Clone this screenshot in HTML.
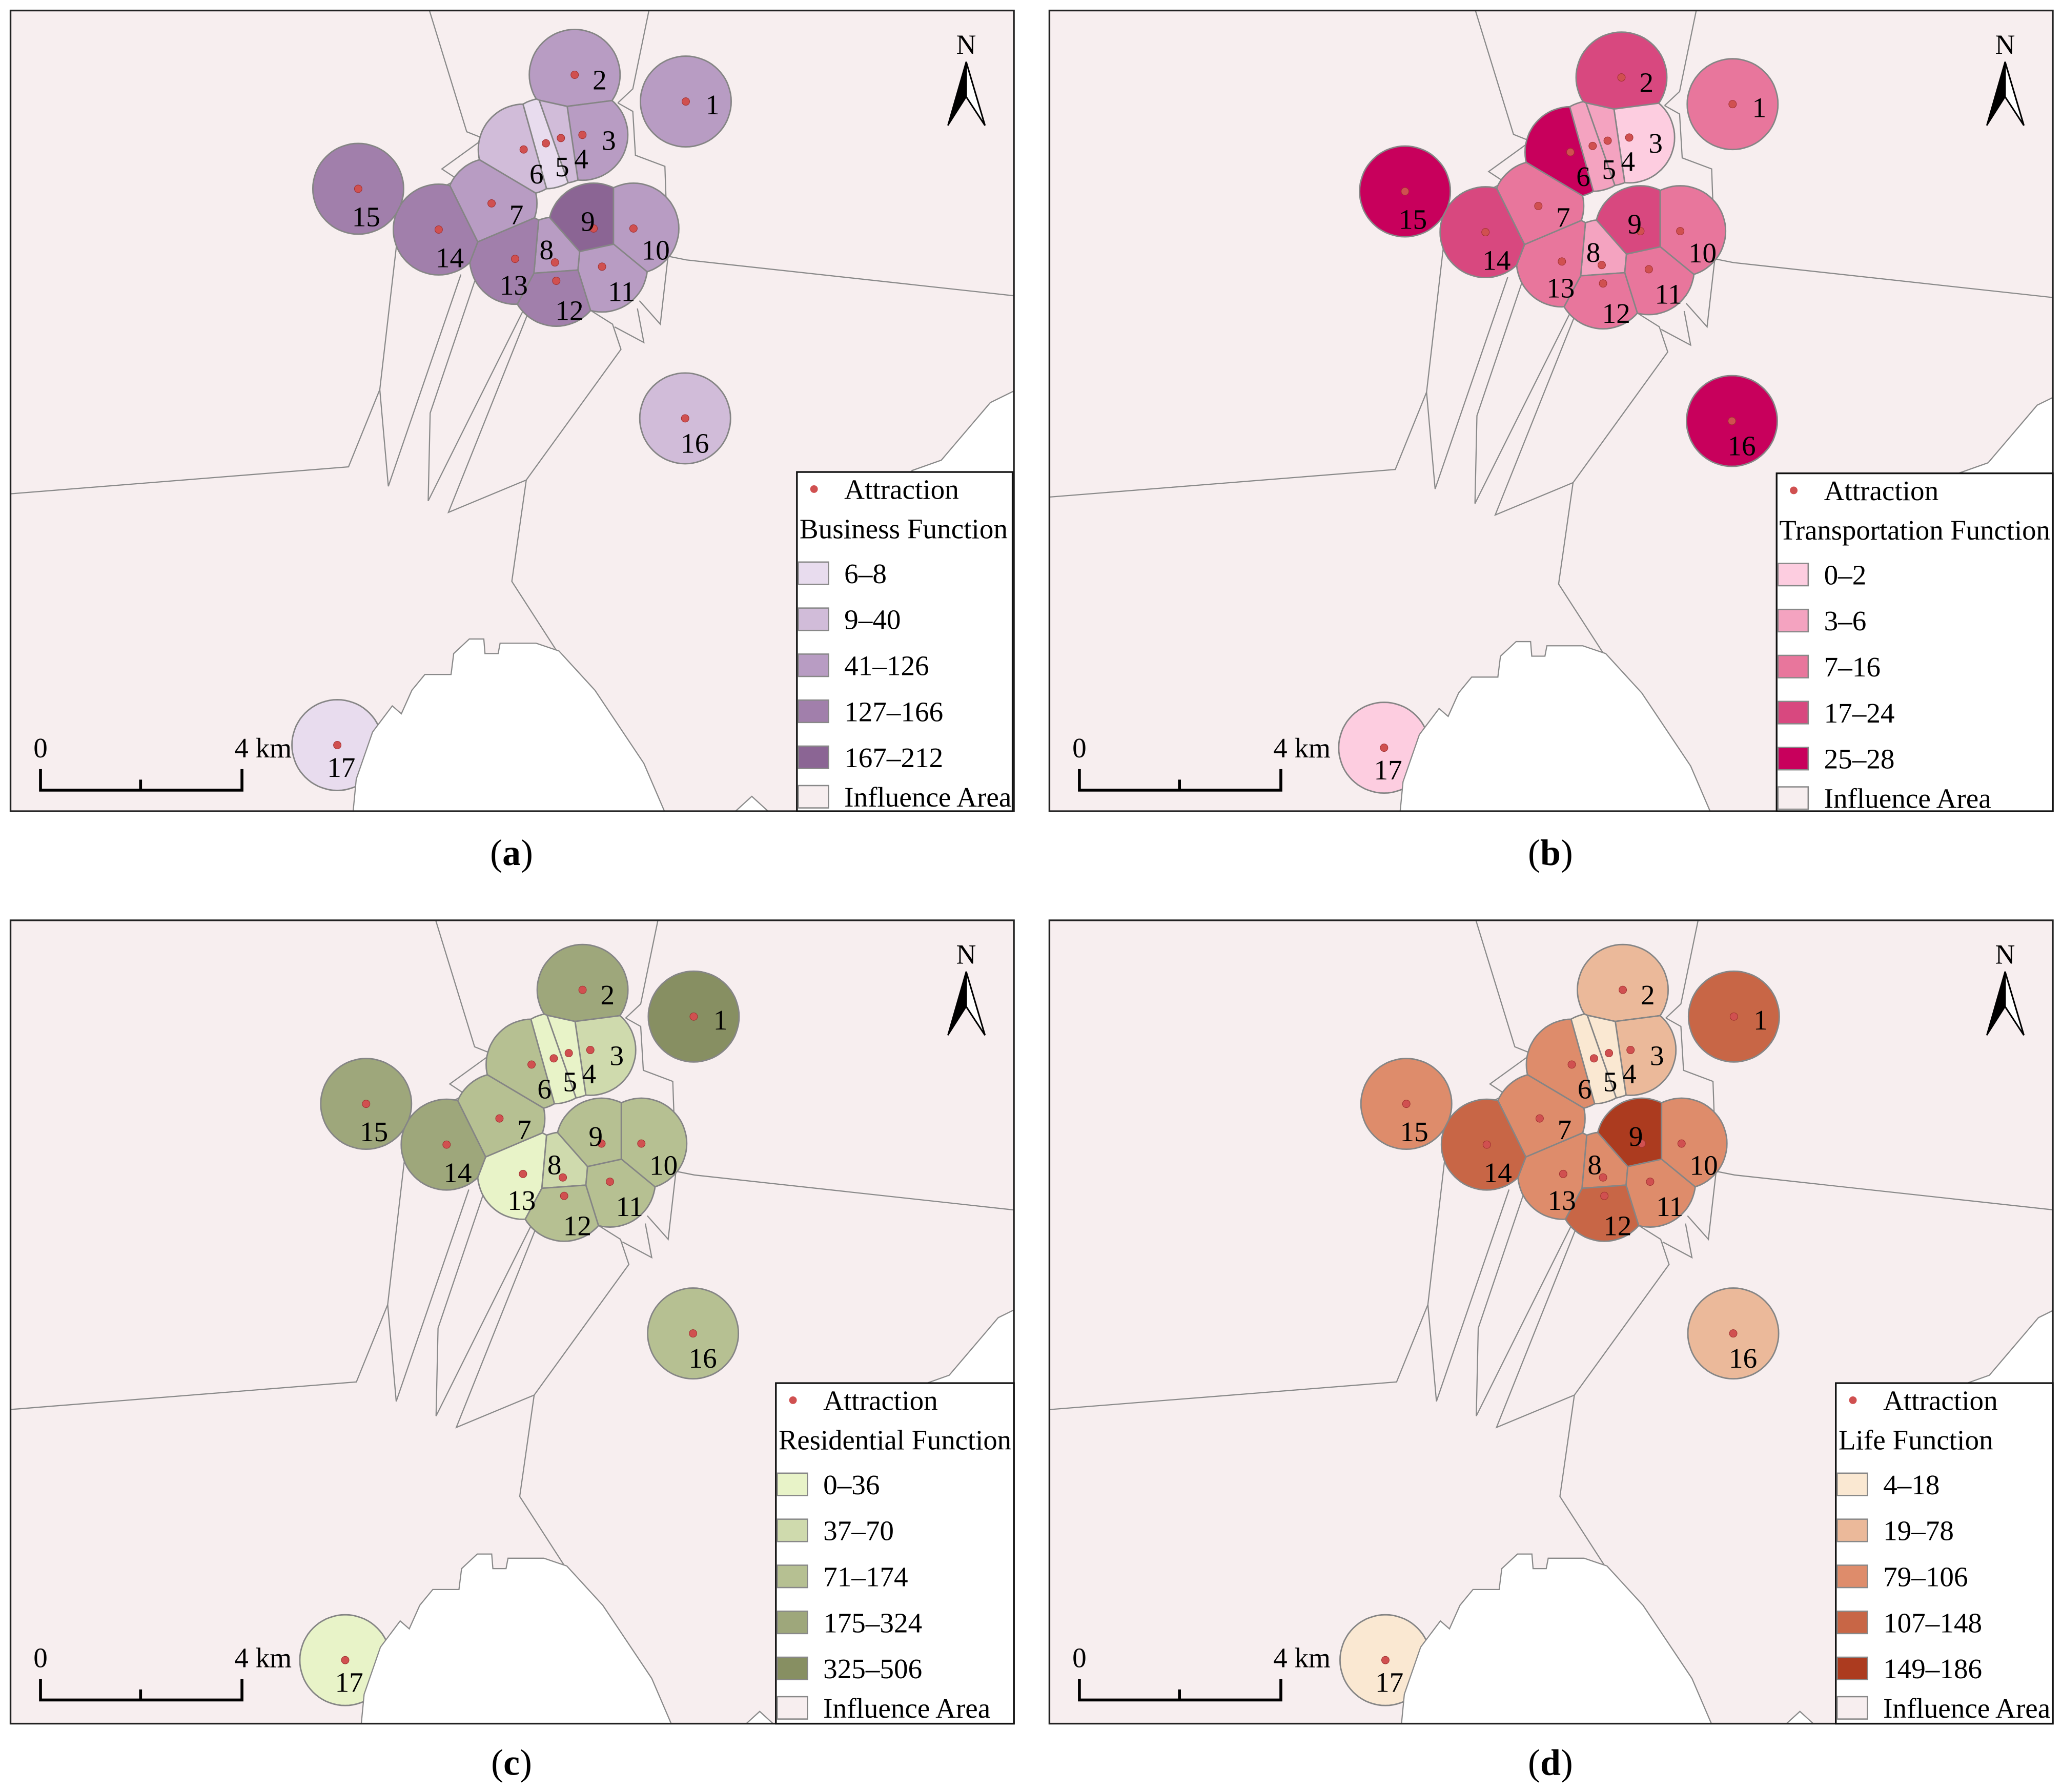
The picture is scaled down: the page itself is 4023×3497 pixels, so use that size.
<!DOCTYPE html>
<html><head><meta charset="utf-8">
<style>
html,body{margin:0;padding:0;background:#fff;}
svg{display:block;font-family:"Liberation Serif",serif;}
</style></head>
<body>
<svg id="fig" width="4023" height="3497" viewBox="0 0 1568 1363" preserveAspectRatio="none" xmlns="http://www.w3.org/2000/svg"></svg>
<script>
// ---- data ----
const siteIds = ["1","2","3","4","5","6","7","8","9","10","11","12","13","14","15","16","17"];
const siteX = [521.5,437,442.9,426.5,415.1,398.2,373.8,422,451.4,481.7,457.8,423,391.7,333.6,272.4,521,256.5];
const siteY = [77.2,56.9,102.6,105,109,113.7,154.7,199.6,173.8,173.8,202.8,213.6,196.9,174.6,143.6,318.2,566.7];
const labelX = [541.8,456,463,442,427.5,408,392.7,415.6,447,498.6,472.7,433,390.7,342,278.4,528.4,259.5];
const labelY = [79.5,60.5,106.6,120.5,126.5,132,163,189.7,168,190,221.5,236,216.7,195.7,164.6,336.8,583.4];

const businessClass    = [2,2,2,1,0,1,2,2,4,2,2,3,3,3,3,1,0];
const transportClass   = [2,3,0,1,1,4,2,1,3,2,2,2,2,3,4,4,0];
const residentialClass = [4,3,1,0,0,2,2,1,2,2,2,2,0,3,3,2,0];
const lifeClass        = [3,1,1,0,0,2,2,2,4,2,2,3,2,3,2,1,0];

const businessBins    = ["6–8","9–40","41–126","127–166","167–212"];
const transportBins   = ["0–2","3–6","7–16","17–24","25–28"];
const residentialBins = ["0–36","37–70","71–174","175–324","325–506"];
const lifeBins        = ["4–18","19–78","79–106","107–148","149–186"];

const businessColors    = ["#e8dcee","#d1bcd9","#b89cc3","#a17fab","#8b6594"];
const transportColors   = ["#fdcde0","#f4a3c0","#e8769c","#d8487f","#c8005c"];
const residentialColors = ["#e8f3c8","#cfdaad","#b6c092","#9ea77b","#878f62"];
const lifeColors        = ["#fae8d2","#ebb99a","#de8c6b","#c86646","#ac3b1f"];

const NS="http://www.w3.org/2000/svg";
const svg=document.getElementById('fig');
function el(tag,attrs,parent){const e=document.createElementNS(NS,tag);for(const k in attrs)e.setAttribute(k,attrs[k]);(parent||svg).appendChild(e);return e;}

const R=34.5;
function cellPoly(i){
  let poly=[];
  for(let k=0;k<72;k++){const a=k/72*2*Math.PI;poly.push([siteX[i]+R*Math.cos(a),siteY[i]+R*Math.sin(a)]);}
  for(let j=0;j<siteX.length;j++){
    if(j===i)continue;
    const dx=siteX[j]-siteX[i],dy=siteY[j]-siteY[i];
    if(Math.hypot(dx,dy)>2*R+2)continue;
    const mx=(siteX[j]+siteX[i])/2,my=(siteY[j]+siteY[i])/2;
    const f=p=>(p[0]-mx)*dx+(p[1]-my)*dy;
    const out=[];
    for(let k=0;k<poly.length;k++){
      const a=poly[k],b=poly[(k+1)%poly.length];const fa=f(a),fb=f(b);
      if(fa<=0)out.push(a);
      if((fa<=0)!==(fb<=0)){const t=fa/(fa-fb);out.push([a[0]+t*(b[0]-a[0]),a[1]+t*(b[1]-a[1])]);}
    }
    poly=out;
  }
  return poly;
}

const SX=0.4971, SY=0.3977;
const bgLines=[
 [[652,0],[714,252],[740,265]],
 [[996,0],[968,170],[945,197]],
 [[740,265],[676,323],[700,343],[651,375],[660,395],[607,398]],
 [[607,465],[581,745],[533,893],[-40,950]],
 [[581,745],[594,930],[705,525]],
 [[735,505],[658,790],[655,958],[718,800],[820,545]],
 [[825,545],[686,980],[805,918],[950,668],[937,620],[905,595]],
 [[805,918],[783,1112],[1035,1600]],
 [[945,197],[968,213],[972,297],[1017,318],[1022,490],[1050,497],[1620,575]],
 [[1022,490],[1010,620],[978,575]],
 [[940,625],[985,655],[975,590]]
];
const whitePolys=[
 [[535,1620],[545,1490],[570,1400],[600,1350],[614,1365],[630,1320],[650,1290],[690,1290],[694,1250],[718,1222],[740,1222],[742,1250],[762,1250],[765,1230],[820,1230],[855,1245],[910,1320],[985,1460],[1040,1620]],
 [[1395,900],[1440,880],[1515,770],[1580,730],[1580,910],[1395,910]],
 [[1100,1580],[1150,1523],[1200,1580]]
];
function pts(arr,ox,oy){return arr.map(p=>(p[0]*SX+ox).toFixed(1)+","+(p[1]*SY+oy).toFixed(1)).join(" ");}

const panels=[
 {id:"a",frame:[8,8,763,609],off:[0,0],fd:[0,0],cls:businessClass,bins:businessBins,cols:businessColors,title:"Business Function",leg:[606,359,164,258]},
 {id:"b",frame:[798,8,763,609],off:[796,2],fd:[790,0],cls:transportClass,bins:transportBins,cols:transportColors,title:"Transportation Function",leg:[1351,360,210,257]},
 {id:"c",frame:[8,700,763,611],off:[6,696],fd:[0,692],cls:residentialClass,bins:residentialBins,cols:residentialColors,title:"Residential Function",leg:[590,1052,181,259]},
 {id:"d",frame:[798,700,763,611],off:[797,696],fd:[790,692],cls:lifeClass,bins:lifeBins,cols:lifeColors,title:"Life Function",leg:[1396,1052,165,259]}
];

const cells=siteX.map((_,i)=>cellPoly(i));
const FS=21.5;

panels.forEach(P=>{
  const [fx,fy,fw,fh]=P.frame,[ox,oy]=P.off,[dx,dy]=P.fd;
  const g=el('g',{});
  
  
  const cp=el('clipPath',{id:'clip'+P.id},g);
  el('rect',{x:fx,y:fy,width:fw,height:fh},cp);
  const m=el('g',{'clip-path':'url(#clip'+P.id+')'},g);
  const bg=el('rect',{x:fx,y:fy,width:fw,height:fh,fill:'#f7eeef'},m);
  
  
  bgLines.forEach(L=>{
    const l=el('polyline',{points:pts(L,ox,oy),fill:'none',stroke:'#8a8a8a','stroke-width':0.9},m);
    
    
  });
  cells.forEach((c,i)=>{
    const p=el('polygon',{points:c.map(q=>(q[0]+ox).toFixed(1)+","+(q[1]+oy).toFixed(1)).join(" "),fill:P.cols[P.cls[i]],stroke:'#858585','stroke-width':1.1},m);
    
    
  });
  whitePolys.forEach(W=>{
    const w=el('polygon',{points:pts(W,ox,oy),fill:'#ffffff',stroke:'#8a8a8a','stroke-width':0.9},m);
    
    
  });
  siteX.forEach((x,i)=>{
    const d=el('circle',{cx:x+ox,cy:siteY[i]+oy,r:2.9,fill:'#d05050',stroke:'#a03030','stroke-width':0.4},m);
    
    
    const t=el('text',{x:labelX[i]+ox,y:labelY[i]+oy+7.5,'font-size':FS,'text-anchor':'middle',fill:'#000'},m);
    t.textContent=siteIds[i];
    
    
  });
  const fr=el('rect',{x:fx,y:fy,width:fw,height:fh,fill:'none',stroke:'#222','stroke-width':1.3},g);
  
  

  // north arrow
  const na=el('g',{},g);
  
  
  const nt=el('text',{x:734.7+dx,y:41+dy,'font-size':21,'text-anchor':'middle'},na);nt.textContent='N';
  el('polygon',{points:`${734.7+dx},${47+dy} ${720.8+dx},${95.4+dy} ${734.7+dx},${73.6+dy}`,fill:'#000',stroke:'#000','stroke-width':1},na);
  el('polygon',{points:`${734.7+dx},${47+dy} ${749+dx},${95.4+dy} ${734.7+dx},${73.6+dy}`,fill:'#fff',stroke:'#000','stroke-width':1.2},na);

  // scale bar
  const sb=el('g',{},g);
  
  
  el('polyline',{points:`${30.8+dx},${585+dy} ${30.8+dx},${601+dy} ${184+dx},${601+dy} ${184+dx},${585+dy}`,fill:'none',stroke:'#000','stroke-width':2.2},sb);
  el('line',{x1:106.9+dx,y1:593+dy,x2:106.9+dx,y2:601+dy,stroke:'#000','stroke-width':2.2},sb);
  const s0=el('text',{x:30.8+dx,y:576+dy,'font-size':FS,'text-anchor':'middle'},sb);s0.textContent='0';
  const s4=el('text',{x:200+dx,y:576+dy,'font-size':FS,'text-anchor':'middle'},sb);s4.textContent='4 km';

  // legend
  const [lx,ly,lw,lh]=P.leg;
  const lg=el('g',{},g);
  
  
  el('rect',{x:lx,y:ly,width:lw,height:lh,fill:'#fff',stroke:'#111','stroke-width':1.3},lg);
  el('circle',{cx:lx+13,cy:ly+13,r:2.9,fill:'#d05050'},lg);
  const at=el('text',{x:lx+36,y:ly+20.5,'font-size':FS},lg);at.textContent='Attraction';
  const tt=el('text',{x:lx+2,y:ly+50.5,'font-size':FS},lg);tt.textContent=P.title;
  
  
  const w=tt.getComputedTextLength();
  if(w>lw-4){tt.setAttribute('textLength',lw-4);tt.setAttribute('lengthAdjust','spacingAndGlyphs');}
  P.bins.forEach((b,k)=>{
    const cy=ly+77+35*k;
    const sw=el('rect',{x:lx+1,y:cy-8.5,width:23,height:17,fill:P.cols[k],stroke:'#888','stroke-width':1},lg);
    
    
    const t=el('text',{x:lx+36,y:cy+7.5,'font-size':FS},lg);t.textContent=b;
  });
  const iy=ly+247;
  el('rect',{x:lx+1,y:iy-8.5,width:23,height:17,fill:'#f7eeef',stroke:'#888','stroke-width':1},lg);
  const it=el('text',{x:lx+36,y:iy+7.5,'font-size':FS},lg);it.textContent='Influence Area';

  // caption
  const cap=el('text',{x:389+dx,y:658+dy,'font-size':28,'text-anchor':'middle'},g);
  
  
  const t1=el('tspan',{},cap);t1.textContent='(';
  const t2=el('tspan',{'font-weight':'bold'},cap);t2.textContent=P.id;
  const t3=el('tspan',{},cap);t3.textContent=')';
});
</script>
</body></html>
